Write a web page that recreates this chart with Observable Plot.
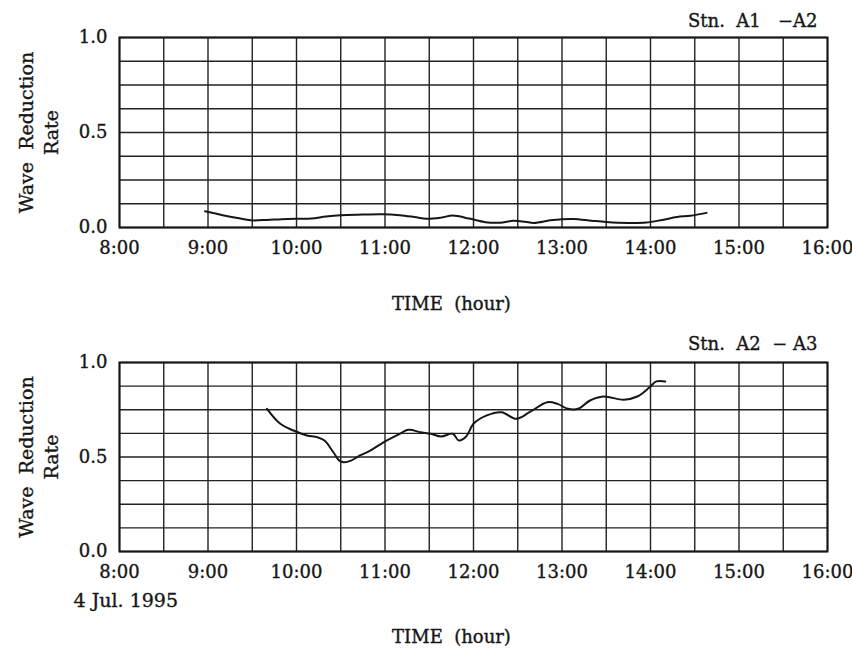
<!DOCTYPE html>
<html>
<head>
<meta charset="utf-8">
<script src="https://cdn.jsdelivr.net/npm/d3@7"></script>
<script src="https://cdn.jsdelivr.net/npm/@observablehq/plot@0.6"></script>
<style>
  html, body { margin: 0; padding: 0; background: #fff; }
  #chart { width: 852px; }
  #chart svg { display: block; }
  #chart svg text { white-space: pre; stroke: #161616; stroke-width: 0.35px; }
</style>
</head>
<body>
<div id="chart"></div>
<script>
// ---- data ----
const timeA1A2 = ["8:58","9:10","9:20","9:29","9:40","9:50","10:00","10:10","10:20","10:30","10:45","10:58","11:10","11:20","11:28","11:38","11:46","11:57","12:08","12:18","12:27","12:35","12:41","12:52","13:00","13:08","13:20","13:30","13:45","13:57","14:08","14:18","14:27","14:38"];
const rateA1A2 = [0.085,0.065,0.050,0.038,0.040,0.044,0.046,0.047,0.058,0.065,0.068,0.070,0.065,0.055,0.046,0.052,0.063,0.047,0.028,0.025,0.035,0.030,0.024,0.038,0.044,0.045,0.036,0.029,0.024,0.026,0.040,0.055,0.062,0.077];

const timeA2A3 = ["9:40","9:49","9:58","10:07","10:14","10:19","10:25","10:29","10:32","10:37","10:43","10:50","10:59","11:08","11:16","11:24","11:31","11:38","11:46","11:50","11:55","12:00","12:09","12:19","12:29","12:38","12:50","12:57","13:04","13:11","13:19","13:28","13:42","13:51","13:59","14:04","14:10"];
const rateA2A3 = [0.755,0.676,0.640,0.614,0.605,0.587,0.525,0.481,0.472,0.481,0.508,0.534,0.578,0.614,0.644,0.631,0.623,0.608,0.623,0.587,0.608,0.676,0.720,0.737,0.702,0.737,0.790,0.781,0.755,0.755,0.799,0.820,0.803,0.820,0.866,0.900,0.900];

const hourTicks = [8, 9, 10, 11, 12, 13, 14, 15, 16];
const halfHourGrid = [8, 8.5, 9, 9.5, 10, 10.5, 11, 11.5, 12, 12.5, 13, 13.5, 14, 14.5, 15, 15.5, 16];
const rateTicks = [0, 0.5, 1.0];
const rateGrid = [0, 0.125, 0.25, 0.375, 0.5, 0.625, 0.75, 0.875, 1.0];

const panelTitles = ["Stn.  A1   \u2212A2", "Stn.  A2  \u2212 A3"];
const yLabel = "Wave  Reduction\nRate";
const xLabel = "TIME  (hour)";
const dateNote = "4 Jul. 1995";

// ---- helpers ----
const toHour = s => { const [h, m] = s.split(":").map(Number); return h + m / 60; };
const rows = (times, rates) => times.map((t, i) => ({hour: toHour(t), rate: rates[i]}));

const ink = "#161616";
const font = "DejaVu Serif";

function panel({data, title, height, marginTop, marginBottom, titleDy, xLabelDy, extra = []}) {
  return Plot.plot({
    width: 852,
    height,
    marginLeft: 119,
    marginRight: 25,
    marginTop,
    marginBottom,
    style: {fontFamily: font, fontSize: "18px", color: ink, background: "#fff", overflow: "visible"},
    x: {domain: [8, 16], ticks: hourTicks, tickFormat: d => `${d}:00`, tickSize: 0, tickPadding: 14, label: null},
    y: {domain: [0, 1], ticks: rateTicks, tickFormat: d3.format(".1f"), tickSize: 0, tickPadding: 12, label: null},
    marks: [
      Plot.gridX(halfHourGrid, {stroke: "#222", strokeOpacity: 1, strokeWidth: 1.4}),
      Plot.gridY(rateGrid, {stroke: "#222", strokeOpacity: 1, strokeWidth: 1.4}),
      Plot.frame({stroke: ink, strokeWidth: 2}),
      Plot.line(data, {x: "hour", y: "rate", stroke: ink, strokeWidth: 2, curve: "catmull-rom"}),
      Plot.axisX({ticks: hourTicks, tickFormat: d => `${d}:00`, tickSize: 0, tickPadding: 14, label: null, fill: ink}),
      Plot.axisY({ticks: rateTicks, tickFormat: d3.format(".1f"), tickSize: 0, tickPadding: 12, label: null, fill: ink}),
      Plot.text([title], {frameAnchor: "top-right", text: d => d, textAnchor: "end", lineAnchor: "middle", dx: -10, dy: titleDy, fontSize: 18, fill: ink}),
      Plot.text([yLabel], {frameAnchor: "left", text: d => d, rotate: -90, textAnchor: "middle", lineAnchor: "middle", lineHeight: 1.3, dx: -82, fontSize: 19, fill: ink}),
      Plot.text([xLabel], {frameAnchor: "bottom", text: d => d, textAnchor: "middle", lineAnchor: "middle", dx: -22, dy: xLabelDy, fontSize: 18, fill: ink}),
      ...extra
    ]
  });
}

const topPanel = panel({
  data: rows(timeA1A2, rateA1A2),
  title: panelTitles[0],
  height: 320, marginTop: 37, marginBottom: 93, titleDy: -16, xLabelDy: 77
});

const bottomPanel = panel({
  data: rows(timeA2A3, rateA2A3),
  title: panelTitles[1],
  height: 332, marginTop: 42, marginBottom: 101, titleDy: -18, xLabelDy: 86,
  extra: [Plot.text([dateNote], {frameAnchor: "bottom-left", text: d => d, textAnchor: "start", lineAnchor: "top", dx: -46, dy: 42, fontSize: 19, fill: ink})]
});

document.getElementById("chart").append(topPanel, bottomPanel);
</script>
</body>
</html>
